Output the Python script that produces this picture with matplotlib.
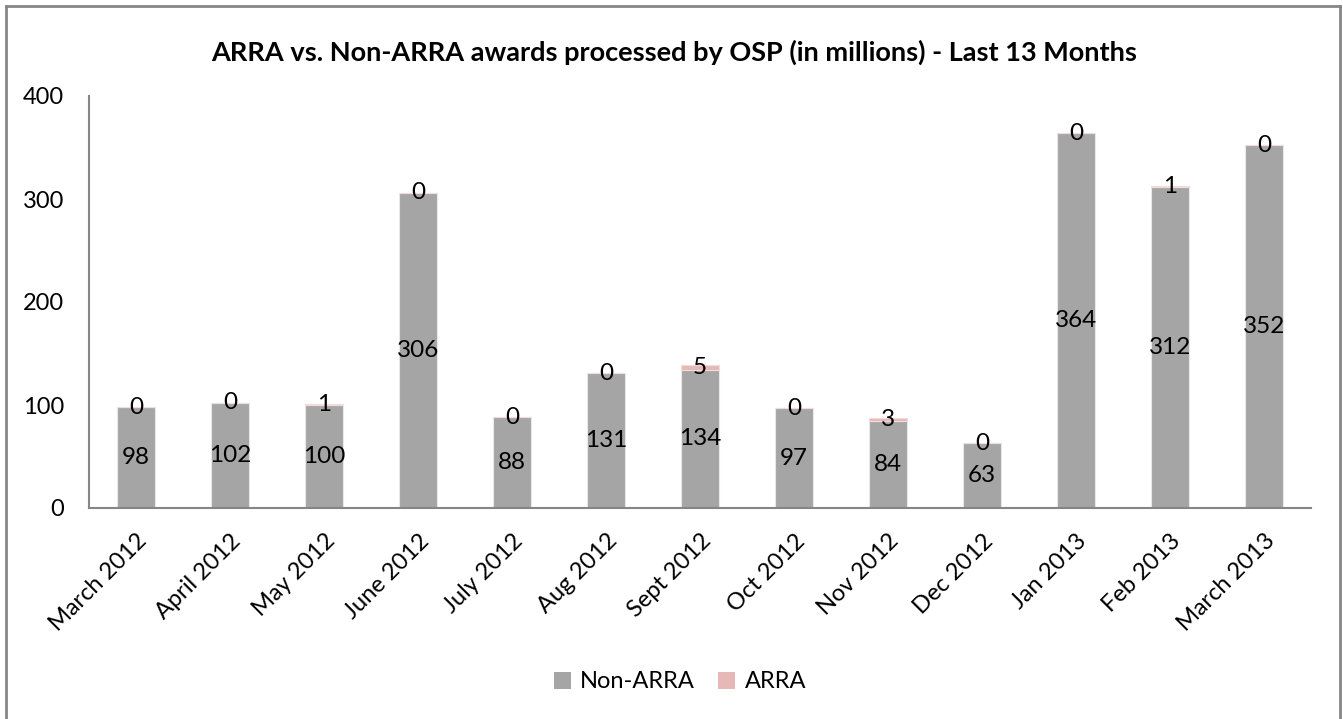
import matplotlib
matplotlib.use("Agg")
import matplotlib.pyplot as plt
from matplotlib.lines import Line2D
from matplotlib.patches import Patch
import numpy as np

months = ["March 2012", "April 2012", "May 2012", "June 2012", "July 2012",
          "Aug 2012", "Sept 2012", "Oct 2012", "Nov 2012", "Dec 2012",
          "Jan 2013", "Feb 2013", "March 2013"]
non_arra = [98, 102, 100, 306, 88, 131, 134, 97, 84, 63, 364, 312, 352]
arra = [0, 0, 1, 0, 0, 0, 5, 0, 3, 0, 0, 1, 0]

grey = "#A5A5A5"
pink = "#E6B9B8"
axis_col = "#868686"

plt.rcParams['font.family'] = ['Lato', 'DejaVu Sans']

fig = plt.figure(figsize=(13.43, 7.19), dpi=100)
ax = fig.add_axes([89 / 1343, 1 - 508 / 719, (1311 - 89) / 1343, (508 - 96) / 719])

x = np.arange(len(months))
ax.bar(x, non_arra, width=0.4, color=grey, edgecolor="#E8E8E8", linewidth=0.8, zorder=2)
ax.bar(x, arra, width=0.4, bottom=non_arra, color=pink, edgecolor="#F2DCDB", linewidth=0.8, zorder=2)

for i in range(len(months)):
    ax.text(x[i], non_arra[i] / 2, str(non_arra[i]), ha="center", va="center", fontsize=17.5)
    ax.text(x[i], non_arra[i] + arra[i] / 2, str(arra[i]), ha="center", va="center", fontsize=17.5)

ax.set_xlim(-0.5, len(months) - 0.5)
ax.set_ylim(0, 400)
ax.set_yticks([0, 100, 200, 300, 400])
ax.tick_params(axis="y", length=0, labelsize=17, pad=18)
ax.tick_params(axis="x", length=0, labelsize=17, pad=16)
ax.set_xticks(x)
ax.set_xticklabels(months, rotation=45, ha="right", rotation_mode="anchor")

for s in ["top", "right"]:
    ax.spines[s].set_visible(False)
for s in ["left", "bottom"]:
    ax.spines[s].set_color(axis_col)
    ax.spines[s].set_linewidth(1.5)

fig.text(674 / 1343, 1 - 52 / 719, "ARRA vs. Non-ARRA awards processed by OSP (in millions) - Last 13 Months",
         ha="center", va="center", fontsize=19.5, fontweight="bold")

handles = [Patch(facecolor=grey, label="Non-ARRA"), Patch(facecolor=pink, label="ARRA")]
fig.legend(handles=handles, loc="center", bbox_to_anchor=(680 / 1343, 1 - 682 / 719), ncol=2,
           frameon=False, fontsize=17, handlelength=0.7, handleheight=0.7, handletextpad=0.4,
           columnspacing=1.0)

# outer frame of the chart area
fig.add_artist(Line2D([6 / 1343, 6 / 1343], [-0.05, 1 - 6 / 719], transform=fig.transFigure,
                      color=axis_col, linewidth=2))
fig.add_artist(Line2D([6 / 1343, 1339.5 / 1343], [1 - 6 / 719, 1 - 6 / 719], transform=fig.transFigure,
                      color=axis_col, linewidth=2))
fig.add_artist(Line2D([1339.5 / 1343, 1339.5 / 1343], [-0.05, 1 - 6 / 719], transform=fig.transFigure,
                      color=axis_col, linewidth=2))

fig.savefig("out.png", dpi=100)
